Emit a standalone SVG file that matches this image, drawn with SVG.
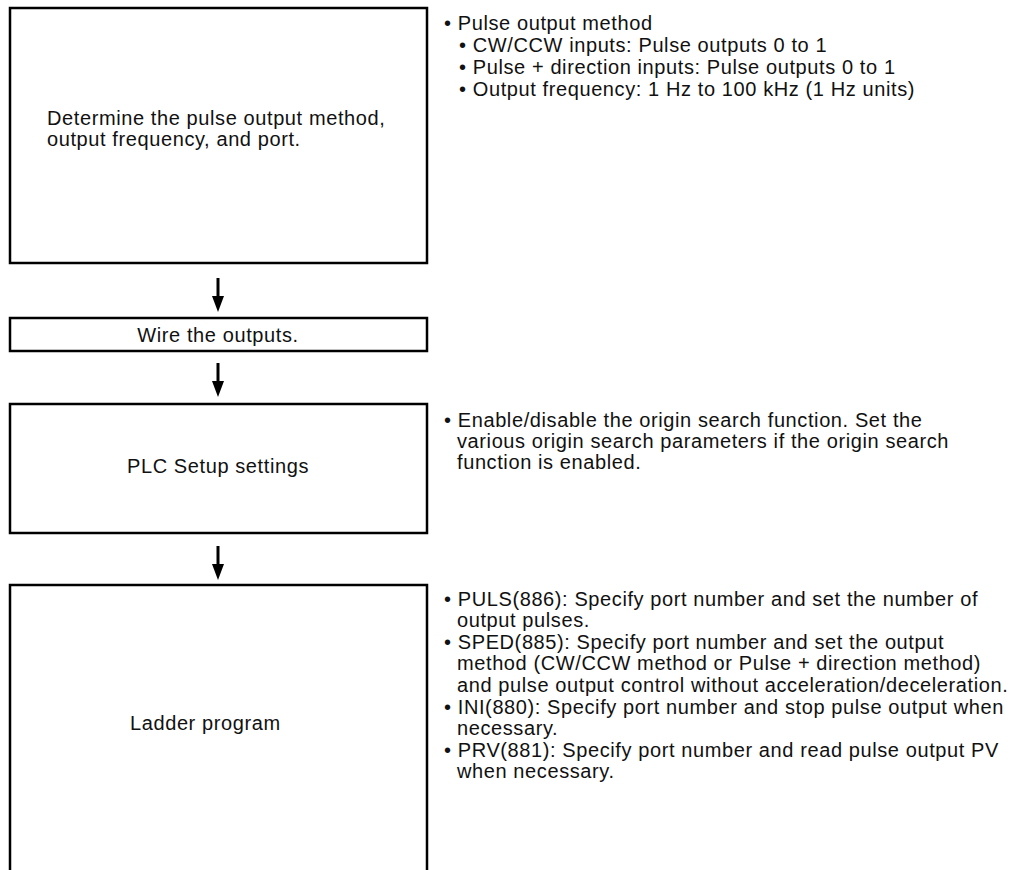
<svg xmlns="http://www.w3.org/2000/svg" width="1015" height="870" viewBox="0 0 1015 870">
<style>
.box{fill:#fff;stroke:#000;stroke-width:2.5}
.t{font-family:"Liberation Sans",Arial,sans-serif;font-size:20px;letter-spacing:0.6px;fill:#111}
.c{text-anchor:middle}
.arr{stroke:#000;stroke-width:3;fill:none}
</style>
<rect width="1015" height="870" fill="#fff"/>
<g id="connectors">
<line x1="218" y1="278" x2="218" y2="297" class="arr"/><path d="M212,296 L224,296 L218,312 Z"/>
<line x1="218" y1="363" x2="218" y2="382" class="arr"/><path d="M212,381 L224,381 L218,397 Z"/>
<line x1="218" y1="546" x2="218" y2="565" class="arr"/><path d="M212,564 L224,564 L218,580 Z"/>
</g>
<g id="node1">
<rect class="box" x="10" y="8" width="417" height="255"/>
<text class="t" x="47" y="125">Determine the pulse output method,</text>
<text class="t" x="47" y="146">output frequency, and port.</text>
</g>
<g id="note1">
<text class="t" x="444" y="30">• Pulse output method</text>
<text class="t" x="459" y="52">• CW/CCW inputs: Pulse outputs 0 to 1</text>
<text class="t" x="459" y="74">• Pulse + direction inputs: Pulse outputs 0 to 1</text>
<text class="t" x="459" y="96">• Output frequency: 1 Hz to 100 kHz (1 Hz units)</text>
</g>
<g id="node2">
<rect class="box" x="10" y="318" width="417" height="33"/>
<text class="t c" x="218" y="342">Wire the outputs.</text>
</g>
<g id="node3">
<rect class="box" x="10" y="404" width="417" height="129"/>
<text class="t c" x="218" y="473">PLC Setup settings</text>
</g>
<g id="note3">
<text class="t" x="444" y="427">• Enable/disable the origin search function. Set the</text>
<text class="t" x="457" y="448">various origin search parameters if the origin search</text>
<text class="t" x="457" y="469">function is enabled.</text>
</g>
<g id="node4">
<path class="box" d="M10,872 L10,585 L427,585 L427,872"/>
<text class="t" x="130" y="730">Ladder program</text>
</g>
<g id="note4">
<text class="t" x="444" y="606">• PULS(886): Specify port number and set the number of</text>
<text class="t" x="457" y="627">output pulses.</text>
<text class="t" x="444" y="649">• SPED(885): Specify port number and set the output</text>
<text class="t" x="457" y="670">method (CW/CCW method or Pulse + direction method)</text>
<text class="t" x="457" y="692">and pulse output control without acceleration/deceleration.</text>
<text class="t" x="444" y="714">• INI(880): Specify port number and stop pulse output when</text>
<text class="t" x="457" y="735">necessary.</text>
<text class="t" x="444" y="757">• PRV(881): Specify port number and read pulse output PV</text>
<text class="t" x="457" y="778">when necessary.</text>
</g>
</svg>
